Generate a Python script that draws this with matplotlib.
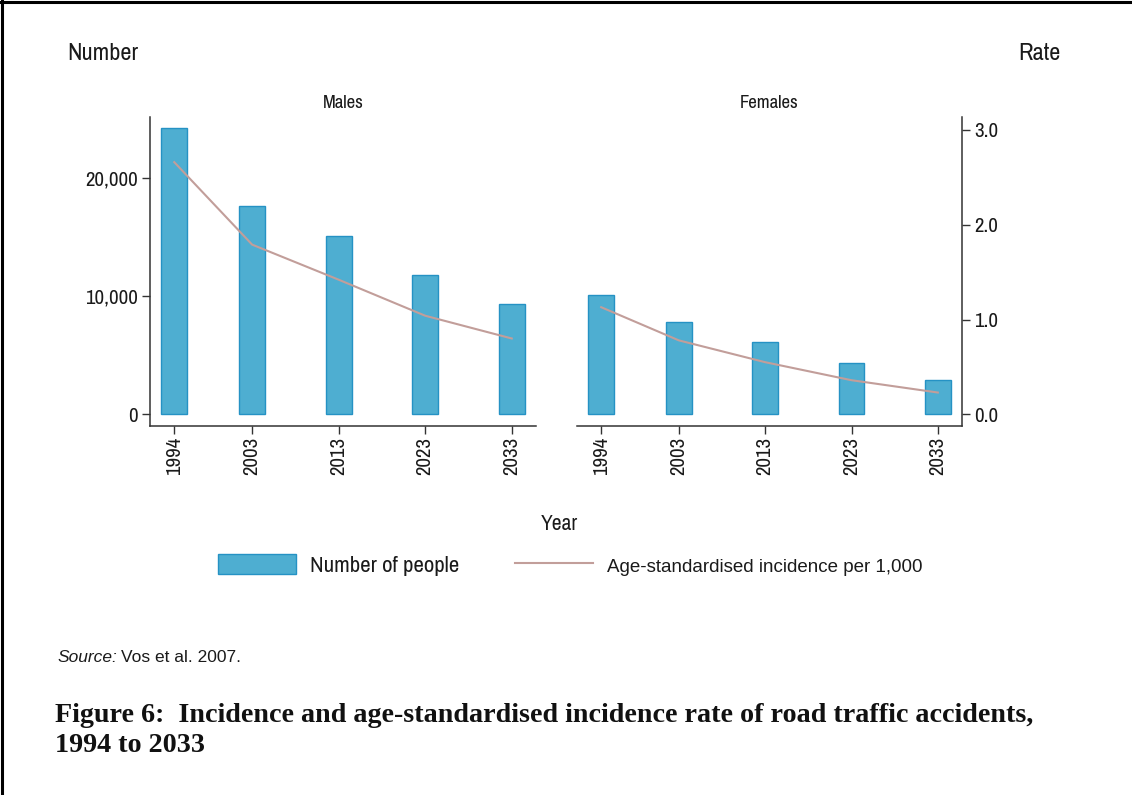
import matplotlib
matplotlib.use("Agg")
import matplotlib.pyplot as plt
from matplotlib import font_manager
from matplotlib.font_manager import FontProperties
from matplotlib.ticker import FuncFormatter, FixedLocator
from matplotlib.lines import Line2D
from matplotlib.patches import Patch

# ---------------- data ----------------
years = [1994, 2003, 2013, 2023, 2033]
year_labels = ["1994", "2003", "2013", "2023", "2033"]
panels = ["Males", "Females"]
males_number = [24200, 17600, 15100, 11800, 9300]
females_number = [10100, 7800, 6100, 4300, 2900]
males_rate = [2.66, 1.79, 1.42, 1.04, 0.80]
females_rate = [1.13, 0.78, 0.55, 0.36, 0.23]
number_ticks = [0, 10000, 20000]
rate_ticks = [0.0, 1.0, 2.0, 3.0]
legend_labels = ["Number of people", "Age-standardised incidence per 1,000"]

# ---------------- fonts ----------------
def find_narrow():
    fl = font_manager.fontManager.ttflist
    def ok(f):
        return f.style == "normal" and f.weight in (400, "normal", "regular", "book")
    prefs = []
    for f in fl:
        if not ok(f):
            continue
        n = f.name
        st = str(f.stretch)
        if "Narrow" in n and ("Liberation" in n or "Arial" in n):
            prefs.append((0, f.fname))
        elif "Narrow" in n:
            prefs.append((1, f.fname))
        elif "Condensed" in n and "Sans" in n:
            prefs.append((2, f.fname))
        elif "condensed" in st or (st.isdigit() and int(st) < 500):
            prefs.append((3, f.fname))
        elif "Condensed" in n:
            prefs.append((4, f.fname))
    prefs.sort()
    return prefs[0][1] if prefs else None

NARROW_FILE = find_narrow()
SHRINK = 1.0 if NARROW_FILE else 0.86

def nf(size):
    if NARROW_FILE:
        return FontProperties(fname=NARROW_FILE, size=size)
    return FontProperties(family="Liberation Sans", size=size * SHRINK)

REG = "Liberation Sans"
SERIF = "Liberation Serif"
plt.rcParams["font.family"] = [REG, "DejaVu Sans"]

BAR = "#4eaed1"
BAR_EDGE = "#2592c4"
LINE = "#c29e9a"
TXT = "#1a1a1a"
SPINE = "#333333"

W, H = 1132, 795
fig = plt.figure(figsize=(W / 100, H / 100), dpi=100)

def fx(px):
    return px / W

def fy(py):
    return 1 - py / H

ax_top, ax_bot = 117, 426
boxes = [(150, 536), (577, 962)]
numbers = [males_number, females_number]
rates = [males_rate, females_rate]

num_lim = (-990, 25163)
rate_lim = (-0.123, 3.136)
xlim = (1991.2, 2035.8)

for i, (x0, x1) in enumerate(boxes):
    ax = fig.add_axes([fx(x0), fy(ax_bot), fx(x1 - x0), (ax_bot - ax_top) / H])
    ax2 = ax.twinx()
    ax.bar(years, numbers[i], width=3.0, color=BAR, edgecolor=BAR_EDGE, linewidth=1.0, zorder=2)
    ax2.plot(years, rates[i], color=LINE, lw=1.5, zorder=3)
    ax.set_xlim(*xlim)
    ax.set_ylim(*num_lim)
    ax2.set_ylim(*rate_lim)
    ax.set_xticks(years)
    ax.set_xticklabels(year_labels, rotation=90, color=TXT)
    for a in (ax, ax2):
        a.spines["top"].set_visible(False)
        a.set_facecolor("none")
        for s in a.spines.values():
            s.set_color(SPINE)
            s.set_linewidth(1.1)
        a.tick_params(length=5.5, width=1.0, color=SPINE, pad=3.0, labelcolor=TXT)
    ax.tick_params(axis="x", pad=2.2)
    ax2.spines["bottom"].set_visible(False)
    if i == 0:
        ax.spines["right"].set_visible(False)
        ax2.spines["right"].set_visible(False)
        ax2.spines["left"].set_visible(False)
        ax2.set_yticks([])
        ax.yaxis.set_major_locator(FixedLocator(number_ticks))
        ax.yaxis.set_major_formatter(FuncFormatter(lambda v, p: f"{v:,.0f}"))
        ylabs = ax.get_yticklabels()
    else:
        ax.spines["left"].set_visible(False)
        ax.spines["right"].set_visible(False)
        ax2.spines["left"].set_visible(False)
        ax.set_yticks([])
        ax2.yaxis.set_major_locator(FixedLocator(rate_ticks))
        ax2.yaxis.set_major_formatter(FuncFormatter(lambda v, p: f"{v:.1f}"))
        ylabs = ax2.get_yticklabels()
    for t in list(ax.get_xticklabels()) + list(ylabs):
        t.set_fontproperties(nf(15))
    ax.text(0.5, 1 + (ax_top - 103) / (ax_bot - ax_top), panels[i], transform=ax.transAxes,
            ha="center", va="center", fontproperties=nf(13.5), color=TXT)

# axis titles
fig.text(fx(67), fy(54), "Number", ha="left", va="center", fontproperties=nf(17.5), color=TXT)
fig.text(fx(1060), fy(54), "Rate", ha="right", va="center", fontproperties=nf(17.5), color=TXT)
fig.text(fx(559), fy(524), "Year", ha="center", va="center", fontproperties=nf(15.5), color=TXT)

# legend
handles = [Patch(facecolor=BAR, edgecolor=BAR_EDGE, linewidth=1.0),
           Line2D([], [], color=LINE, lw=1.5)]
leg = fig.legend(handles, legend_labels, ncol=2, loc="center", bbox_to_anchor=(fx(570.5), fy(565)),
                 frameon=False, prop=nf(16.5), handlelength=3.4 / SHRINK, handleheight=1.0 / SHRINK,
                 handletextpad=0.6, columnspacing=2.45 / SHRINK, borderpad=0)
for t in leg.get_texts():
    t.set_color(TXT)
leg.get_texts()[1].set_fontproperties(FontProperties(family=[REG, "DejaVu Sans"], size=13.5))

# source
fig.canvas.draw()
r = fig.canvas.get_renderer()
s1 = fig.text(fx(57), fy(658), "Source:", ha="left", va="center", fontsize=12.5,
              family=[REG, "DejaVu Sans"], style="italic", color=TXT)
bb = s1.get_window_extent(renderer=r)
fig.text((bb.x1 + 4) / W, fy(658), "Vos et al. 2007.", ha="left", va="center", fontsize=12.5,
         family=[REG, "DejaVu Sans"], color=TXT)

# caption
cap1 = "Figure 6:  Incidence and age-standardised incidence rate of road traffic accidents,"
cap2 = "1994 to 2033"
c1 = fig.text(fx(55), fy(716), cap1, ha="left", va="center", fontsize=17, family=[SERIF, "DejaVu Serif"],
              weight="bold", color="#111111")
wb = c1.get_window_extent(renderer=r)
size = 17 * 980 / wb.width
c1.set_fontsize(size)
fig.text(fx(55), fy(746), cap2, ha="left", va="center", fontsize=size, family=[SERIF, "DejaVu Serif"],
         weight="bold", color="#111111")

# border (left and top)
fig.add_artist(Line2D([fx(1.5), fx(1.5)], [0, 1], transform=fig.transFigure, color="black", lw=2.2))
fig.add_artist(Line2D([0, 1], [fy(1.5), fy(1.5)], transform=fig.transFigure, color="black", lw=2.2))

fig.savefig("out.png", dpi=100)
